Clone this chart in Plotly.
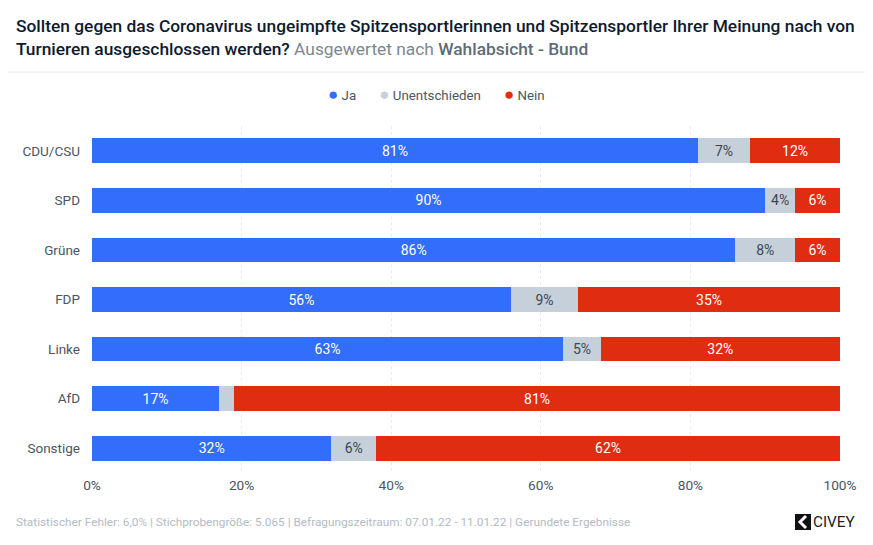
import plotly.graph_objects as go

parties = ['CDU/CSU', 'SPD', 'Grüne', 'FDP', 'Linke', 'AfD', 'Sonstige']
ja = [81, 90, 86, 56, 63, 17, 32]
unentschieden = [7, 4, 8, 9, 5, 2, 6]
nein = [12, 6, 6, 35, 32, 81, 62]
ticks = [0, 20, 40, 60, 80, 100]
tick_labels = ['0%', '20%', '40%', '60%', '80%', '100%']

# the page keeps an 8px body margin, so the figure is 8px short of the window
W = 865
H = 537
font = 'Roboto'
blue = '#326dfc'
grey = '#c5d0da'
red = '#e02d12'
dark = '#0e1a2e'
slate = '#4a5663'
muted = '#b3bbc3'

series = [('Ja', ja, blue, 'white'),
          ('Unentschieden', unentschieden, grey, '#3c4754'),
          ('Nein', nein, red, 'white')]


def px(x):
    return (x - 92) / 748


def py(y):
    return (473 - y) / 347


fig = go.Figure()
for name, vals, color, txt in series:
    # AfD undecided is too narrow for a label
    labels = [str(v) + '%' if v > 2 else '' for v in vals]
    fig.add_trace(go.Bar(y=parties, x=vals, orientation='h', name=name,
                         marker=dict(color=color, line=dict(width=0)),
                         text=labels, textposition='inside', insidetextanchor='middle',
                         textangle=0, constraintext='none',
                         textfont=dict(family=font, size=14, color=txt),
                         showlegend=False))

fig.update_layout(
    width=W, height=H, barmode='stack', bargap=0.5,
    paper_bgcolor='white', plot_bgcolor='white',
    margin=dict(l=84, r=33, t=118, b=72, autoexpand=False),
    font=dict(family=font, size=14, color=slate),
    showlegend=False,
)
fig.update_xaxes(range=[0, 100], tickvals=ticks, ticktext=tick_labels,
                 showgrid=True, gridcolor='#e9ebee', griddash='dot', gridwidth=1,
                 zeroline=False, showline=False, ticks='', ticklabelstandoff=2,
                 tickfont=dict(family=font, size=13.7, color=slate), fixedrange=True)
fig.update_yaxes(autorange='reversed', showgrid=False, zeroline=False, showline=False,
                 ticks='', ticklabelstandoff=11,
                 tickfont=dict(family=font, size=13.5, color=slate), fixedrange=True)

# legend, tight dot-to-label spacing like the original
legend_text = '       '.join(
    f'<span style="color:{color};font-size:17px">●</span> {name}' for name, _, color, _ in series)
fig.add_annotation(text=legend_text, xref='paper', yref='paper', x=px(436), y=py(94),
                   xanchor='center', yanchor='middle', showarrow=False,
                   font=dict(family=font, size=13.3, color=slate))

# header
fig.add_annotation(
    text='Sollten gegen das Coronavirus ungeimpfte Spitzensportlerinnen und Spitzensportler Ihrer Meinung nach von'
         '<br>Turnieren ausgeschlossen werden? '
         '<span style="color:#7d8791;font-weight:400">Ausgewertet nach </span>'
         '<span style="color:#5f6b77">Wahlabsicht - Bund</span>',
    xref='paper', yref='paper', x=px(14), y=py(13.5), xanchor='left', yanchor='top',
    align='left', showarrow=False, font=dict(family=font, size=17.37, color=dark, weight=500))
fig.add_shape(type='line', xref='paper', yref='paper', x0=px(0), x1=px(873),
              y0=py(72), y1=py(72), line=dict(color='#e8e8e8', width=1))

# footer
fig.add_annotation(
    text='Statistischer Fehler: 6,0% | Stichprobengröße: 5.065 | Befragungszeitraum: 07.01.22 - 11.01.22 | Gerundete Ergebnisse',
    xref='paper', yref='paper', x=px(14), y=py(522), xanchor='left', yanchor='middle',
    showarrow=False, font=dict(family=font, size=11.8, color=muted))
fig.add_annotation(text='CIVEY', xref='paper', yref='paper', x=px(858), y=py(522),
                   xanchor='right', yanchor='middle', showarrow=False,
                   font=dict(family=font, size=15.3, color='#222222'))
# logo square
fig.add_shape(type='rect', xref='paper', yref='paper', x0=px(795), x1=px(811),
              y0=py(530), y1=py(514), fillcolor='#111111', line=dict(width=0))
fig.add_shape(type='path', xref='paper', yref='paper',
              path=f'M {px(806)} {py(516)} L {px(800)} {py(522)} L {px(806)} {py(528)}',
              line=dict(color='white', width=3))

fig.write_html('out.html')
